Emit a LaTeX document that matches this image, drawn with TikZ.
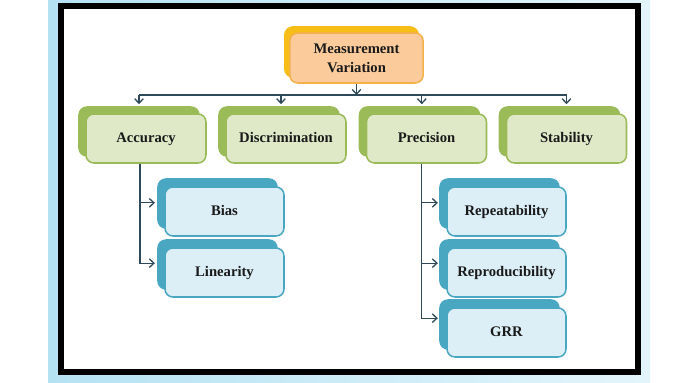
\documentclass[tikz,border=0pt]{standalone}
\usepackage{fontspec}
\setmainfont{Liberation Serif}
\usetikzlibrary{arrows.meta,positioning,shadows}

\definecolor{bgL}{HTML}{B5E2F3}
\definecolor{bgR}{HTML}{E3F5FB}
\definecolor{peach}{HTML}{FBCB9C}
\definecolor{peachD}{HTML}{F4B04A}
\definecolor{gold}{HTML}{F6BE16}
\definecolor{leaf}{HTML}{DFE9C7}
\definecolor{leafD}{HTML}{9BBB59}
\definecolor{sky}{HTML}{DCEFF6}
\definecolor{skyD}{HTML}{4AA7C2}
\definecolor{wire}{HTML}{2E4A5A}
\definecolor{ink}{HTML}{1A1A1A}

\begin{document}
\begin{tikzpicture}[
    x=0.03cm, y=-0.03cm,
    box/.style={rounded corners=0.24cm, line width=1.3pt, align=center,
        text=ink, font=\fontsize{12.5}{16}\selectfont\bfseries},
    root/.style={box, fill=peach, draw=peachD,
        minimum width=4cm, minimum height=1.5cm,
        copy shadow={shadow xshift=-0.15cm, shadow yshift=0.18cm, fill=gold, draw=gold}},
    branch/.style={box, fill=leaf, draw=leafD, text height=1.9ex, text depth=0.5ex,
        minimum width=3.6cm, minimum height=1.47cm,
        copy shadow={shadow xshift=-0.21cm, shadow yshift=0.21cm, fill=leafD, draw=leafD}},
    leafbox/.style={box, fill=sky, draw=skyD, text height=1.9ex, text depth=0.5ex,
        minimum width=3.57cm, minimum height=1.47cm,
        copy shadow={shadow xshift=-0.21cm, shadow yshift=0.24cm, fill=skyD, draw=skyD}},
    link/.style={wire, line width=1.1pt},
    map/.style={link, -{Straight Barb[length=1.4mm,width=2.6mm]}},
]

\useasboundingbox (0,0) rectangle (700,382);

%----------------------------------
% Background and frame
%----------------------------------

\shade[left color=bgL, right color=bgR] (48,0) rectangle (650,382);
\draw[line width=0.18cm, fill=white] (61,6) rectangle (638,372);

%----------------------------------
% Root
%----------------------------------

\node[root] (mVar) at (356.5,58) {Measurement\\Variation};

%----------------------------------
% Second level
%----------------------------------

\node[branch] (acc)  at (146,138.5)   {Accuracy};
\node[branch] (disc) at (286,138.5)   {Discrimination};
\node[branch] (prec) at (426.5,138.5) {Precision};
\node[branch] (stab) at (566.5,138.5) {Stability};

%----------------------------------
% Third level
%----------------------------------

\node[leafbox] (bias) at (224.5,211.5) {Bias};
\node[leafbox] (lin)  at (224.5,272.5) {Linearity};

\node[leafbox] (rep)   at (506.5,211.5) {Repeatability};
\node[leafbox] (repro) at (506.5,272.5) {Reproducibility};
\node[leafbox] (grr)   at (506.5,332.5) {GRR};

%----------------------------------
% Connectors
%----------------------------------

\coordinate (bus) at (356.5,95);

\draw[map] (mVar.south) -- (mVar.south |- bus);
\draw[link] ([xshift=-0.21cm]acc.north |- bus) -- (stab.north |- bus);

\foreach \n/\s in {acc/-0.21, disc/-0.15, prec/-0.14, stab/0}
    \draw[map] ([xshift=\s cm]\n.north |- bus) -- ([xshift=\s cm,yshift=0.27cm]\n.north);

\draw[map] ([xshift=-0.18cm]acc.south) |- ([xshift=-0.28cm,yshift=0.26cm]bias.west);
\draw[map] ([xshift=-0.18cm]acc.south) |- ([xshift=-0.28cm,yshift=0.28cm]lin.west);

\draw[map] ([xshift=-0.14cm]prec.south) |- ([xshift=-0.25cm,yshift=0.26cm]rep.west);
\draw[map] ([xshift=-0.14cm]prec.south) |- ([xshift=-0.25cm,yshift=0.28cm]repro.west);
\draw[map] ([xshift=-0.14cm]prec.south) |- ([xshift=-0.25cm,yshift=0.43cm]grr.west);

\end{tikzpicture}
\end{document}
